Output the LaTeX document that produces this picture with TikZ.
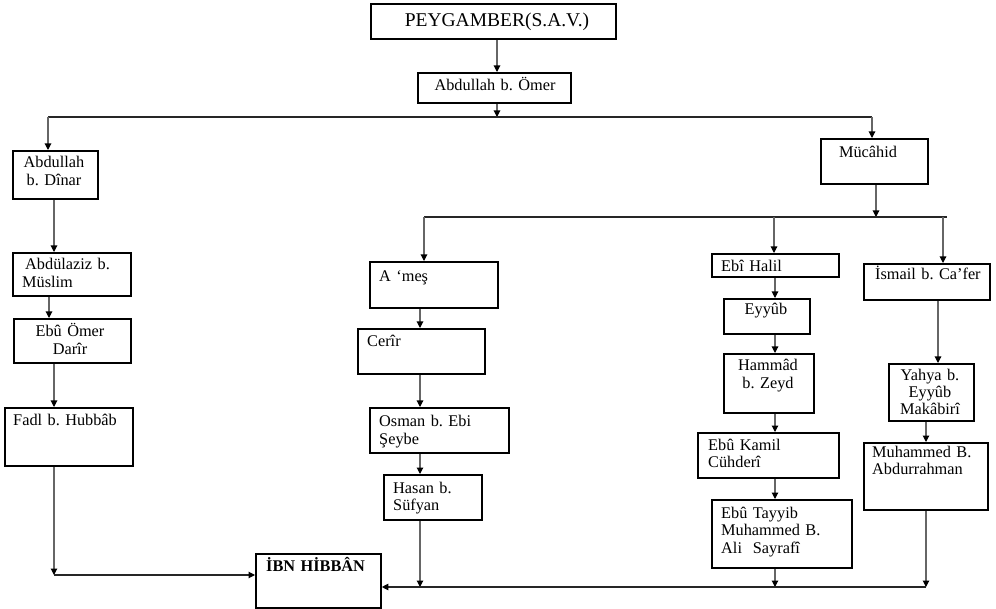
\documentclass[tikz,border=0pt]{standalone}
\usepackage{fontspec}
\setmainfont{Liberation Serif}
\usetikzlibrary{arrows.meta}
\frenchspacing
\newcommand\mkbox[5]{\node[box,minimum width={#4pt-#2pt},minimum height={#5pt-#3pt}] (#1) at (#2,#3) {};}
\begin{document}
\begin{tikzpicture}[x=1pt,y=-1pt,
  box/.style={draw=black,line width=1.8pt,inner sep=0pt,anchor=north west},
  lbl/.style={inner sep=0pt,font=\fontsize{16.3}{17.5}\selectfont\frenchspacing,align=left,anchor=base west},
  clbl/.style={inner sep=0pt,font=\fontsize{16.3}{17.5}\selectfont\frenchspacing,align=center,anchor=base},
  conn/.style={draw=black!60,line width=1.1pt},
  hconn/.style={draw=black!85,line width=1.1pt},
  arr/.style={conn,-{Triangle[width=6.5pt,length=6.5pt,color=black]}},
  harr/.style={hconn,-{Triangle[width=6.5pt,length=6.5pt,color=black]}}]
\useasboundingbox (0,0) rectangle (996,609);

% boxes
\mkbox{peyg}{370}{3}{615}{38}
\mkbox{omer}{417}{72}{570}{102}
\mkbox{dinar}{12}{150}{97}{198}
\mkbox{aziz}{12}{252}{130}{295}
\mkbox{ebuomer}{13}{318}{130}{362}
\mkbox{fadl}{4}{407}{132}{465}
\mkbox{ibn}{255}{553}{380}{607}
\mkbox{mucahid}{820}{138}{927}{183}
\mkbox{ames}{369}{261}{497}{307}
\mkbox{cerir}{357}{328}{484}{373}
\mkbox{osman}{369}{407}{508}{452}
\mkbox{hasan}{383}{474}{481}{519}
\mkbox{halil}{711}{253}{838}{276}
\mkbox{eyyub}{723}{298}{809}{333}
\mkbox{hammad}{723}{353}{813}{412}
\mkbox{kamil}{697}{432}{838}{477}
\mkbox{tayyib}{711}{499}{851}{567}
\mkbox{ismail}{863}{263}{989}{299}
\mkbox{yahya}{888}{363}{973}{420}
\mkbox{muhammed}{863}{442}{987}{509}

% texts
\node[clbl,font=\fontsize{19.5}{21}\selectfont,text width=240pt] (tpeyg) at (497,27) {PEYGAMBER(S.A.V.)};
\node[clbl,text width=150pt] (tomer) at (495,91) {Abdullah b. Ömer};
\node[clbl,text width=85pt] (tdinar) at (54,168) {Abdullah\\b. Dînar};
\node[lbl,text width=105pt] (taziz) at (22,270) {\hspace{3pt}Abdülaziz b.\\Müslim};
\node[clbl,text width=110pt] (tebuomer) at (70,337) {Ebû Ömer\\Darîr};
\node[lbl,text width=118pt] (tfadl) at (13,425) {Fadl b. Hubbâb};
\node[lbl,text width=110pt] (tibn) at (266,571) {\textbf{İBN HİBBÂN}};
\node[clbl,text width=100pt] (tmucahid) at (868,158) {Mücâhid};
\node[lbl,text width=115pt] (tames) at (379,282) {A ‘meş};
\node[lbl,text width=115pt] (tcerir) at (367,347) {Cerîr};
\node[lbl,text width=125pt] (tosman) at (379,427) {Osman b. Ebi\\Şeybe};
\node[lbl,text width=85pt] (thasan) at (393,493) {Hasan b.\\Süfyan};
\node[lbl,text width=115pt] (thalil) at (721,272) {Ebî Halil};
\node[clbl,text width=85pt] (teyyub) at (766,315) {Eyyûb};
\node[clbl,text width=88pt] (thammad) at (768,371) {Hammâd\\b. Zeyd};
\node[lbl,text width=125pt] (tkamil) at (708,450) {Ebû Kamil\\Cühderî};
\node[lbl,text width=128pt] (ttayyib) at (721,518) {Ebû Tayyib\\Muhammed B.\\Ali\ \ Sayrafî};
\node[lbl,text width=118pt] (tismail) at (875,280) {İsmail b. Ca’fer};
\node[clbl,text width=84pt,font=\fontsize{16.3}{16.6}\selectfont\frenchspacing] (tyahya) at (930,381) {Yahya b.\\Eyyûb\\Makâbirî};
\node[lbl,text width=112pt] (tmuhammed) at (872,457) {Muhammed B.\\Abdurrahman};

% top connectors
\coordinate (jtop) at (497,117);
\coordinate (jleft) at (48,117);
\coordinate (jright) at (872,117);
\draw[arr] (peyg.south -| jtop) -- (omer.north -| jtop);
\draw[arr] (omer.south -| jtop) -- (jtop);
\draw[hconn] (jleft) -- (jright);
\draw[arr] (jleft) -- (dinar.north -| jleft);
\draw[arr] (jright) -- (mucahid.north -| jright);

% left column
\coordinate (xa) at (54,0);
\coordinate (xb) at (49,0);
\coordinate (bl) at (54,575);
\draw[arr] (dinar.south -| xa) -- (aziz.north -| xa);
\draw[arr] (aziz.south -| xb) -- (ebuomer.north -| xb);
\draw[arr] (ebuomer.south -| xa) -- (fadl.north -| xa);
\draw[arr] (fadl.south -| xa) -- (bl);
\draw[harr] (bl) -- (ibn.west |- bl);

% Mucahid branch
\coordinate (jm) at (876,217);
\coordinate (jm1) at (424,217);
\coordinate (jm2) at (947,217);
\coordinate (xh) at (774,217);
\coordinate (xi) at (943,217);
\draw[arr] (mucahid.south -| jm) -- (jm);
\draw[hconn] (jm1) -- (jm2);
\draw[arr] (jm1) -- (ames.north -| jm1);
\draw[arr] (xh) -- (halil.north -| xh);
\draw[arr] (xi) -- (ismail.north -| xi);

% middle column
\coordinate (xm) at (420,0);
\coordinate (bm) at (420,587);
\draw[arr] (ames.south -| xm) -- (cerir.north -| xm);
\draw[arr] (cerir.south -| xm) -- (osman.north -| xm);
\draw[arr] (osman.south -| xm) -- (hasan.north -| xm);
\draw[arr] (hasan.south -| xm) -- (bm);

% Ebi Halil column
\coordinate (xe) at (775,0);
\coordinate (be) at (775,587);
\draw[arr] (halil.south -| xe) -- (eyyub.north -| xe);
\draw[arr] (eyyub.south -| xe) -- (hammad.north -| xe);
\draw[arr] (hammad.south -| xe) -- (kamil.north -| xe);
\draw[arr] (kamil.south -| xe) -- (tayyib.north -| xe);
\draw[arr] (tayyib.south -| xe) -- (be);

% Ismail column
\coordinate (xs) at (938,0);
\coordinate (xy) at (926,0);
\coordinate (br) at (926,587);
\draw[arr] (ismail.south -| xs) -- (yahya.north -| xs);
\draw[arr] (yahya.south -| xy) -- (muhammed.north -| xy);
\draw[arr] (muhammed.south -| xy) -- (br);
\draw[harr] (br) -- (ibn.east |- br);
\end{tikzpicture}
\end{document}
